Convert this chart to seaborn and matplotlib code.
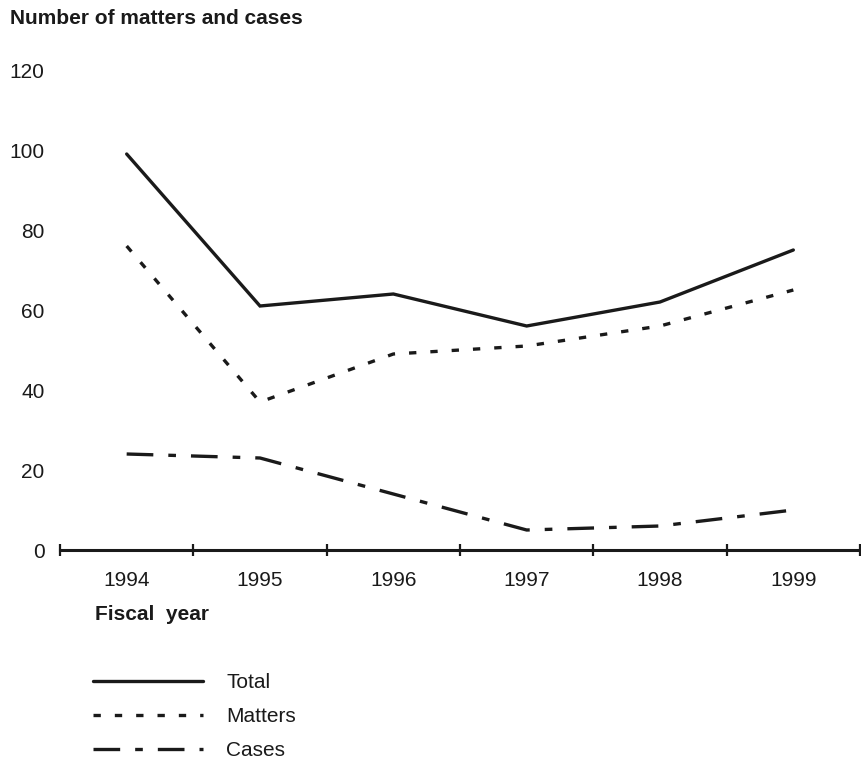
import pandas as pd
import numpy as np
import matplotlib
import matplotlib.pyplot as plt
import seaborn as sns

matplotlib.use("Agg")

years = ["1994", "1995", "1996", "1997", "1998", "1999"]
total = [99, 61, 64, 56, 62, 75]
matters = [76, 37, 49, 51, 56, 65]
cases = [24, 23, 14, 5, 6, 10]
series_names = ["Total", "Matters", "Cases"]

df = pd.DataFrame({
    "year": years * 3,
    "value": total + matters + cases,
    "series": np.repeat(series_names, len(years)),
})
df["x"] = np.tile(np.arange(len(years)), 3)

sns.set_theme(style="white")
plt.rcParams["font.family"] = ["Liberation Sans", "DejaVu Sans"]

ink = "#1a1a1a"
lw = 2.4
fs = 15
dash_styles = {
    "Total": "",
    "Matters": (2.2, 4.2),
    "Cases": (8.0, 4.5, 2.3, 4.5),
}

fig = plt.figure(figsize=(8.61, 7.67), dpi=100)
ax = fig.add_axes([60 / 861, 217 / 767, 800 / 861, 480 / 767])

sns.lineplot(
    data=df, x="x", y="value", style="series", style_order=series_names,
    dashes=dash_styles, color=ink, linewidth=lw, ax=ax, legend=False,
    estimator=None,
)
for line in ax.lines:
    line.set_solid_joinstyle("miter")
    line.set_dash_capstyle("butt")

ax.set_xlim(-0.5, 5.5)
ax.set_ylim(0, 120)
ax.set_yticks(range(0, 121, 20))
ax.set_xticks(np.arange(len(years)))
ax.set_xticklabels(years)
ax.set_xticks(np.arange(-0.5, 6.0, 1.0), minor=True)
ax.tick_params(axis="x", which="major", bottom=True, length=0, pad=15,
               labelsize=fs, colors=ink)
ax.tick_params(axis="x", which="minor", bottom=True, length=9, width=1.6,
               direction="inout", color=ink)
ax.tick_params(axis="y", length=0, pad=11, labelsize=fs, colors=ink)
for side in ["top", "right", "left"]:
    ax.spines[side].set_visible(False)
ax.spines["bottom"].set_linewidth(2.2)
ax.spines["bottom"].set_color(ink)
ax.set_xlabel("")
ax.set_ylabel("")
ax.grid(False)

fig.text(10 / 861, 1 - 18 / 767, "Number of matters and cases", fontsize=fs,
         fontweight="bold", va="center", ha="left", color=ink)
fig.text(95 / 861, 1 - 615 / 767, "Fiscal  year", fontsize=fs,
         fontweight="bold", va="center", ha="left", color=ink)

handles = [line for line in ax.lines[:3]]
leg = fig.legend(
    handles, series_names, loc="upper left",
    bbox_to_anchor=(93 / 861, 1 - 673 / 767), frameon=False,
    handlelength=5.3, handletextpad=1.1, labelspacing=0.72, fontsize=fs,
    borderaxespad=0, borderpad=0,
)
for text in leg.get_texts():
    text.set_color(ink)

plt.savefig("out.png", dpi=100)
plt.close()
